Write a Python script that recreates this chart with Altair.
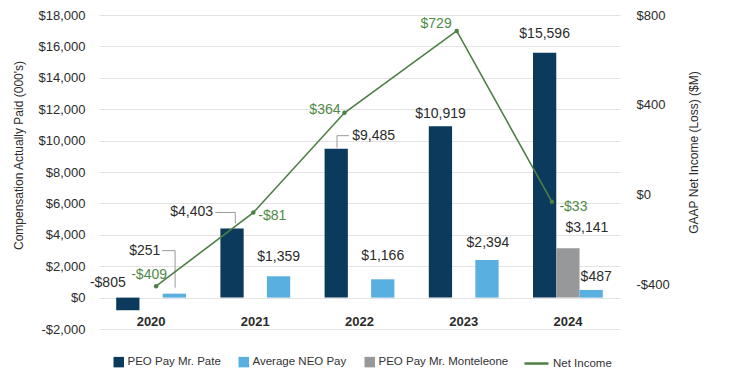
import altair as alt
import pandas as pd

# ---------------- data ----------------
years = ["2020", "2021", "2022", "2023", "2024"]
pate_pay = [-805, 4403, 9485, 10919, 15596]
neo_pay = [251, 1359, 1166, 2394, 487]
monteleone_pay = [None, None, None, None, 3141]
net_income = [-409, -81, 364, 729, -33]

PATE = "PEO Pay Mr. Pate"
NEO = "Average NEO Pay"
MONT = "PEO Pay Mr. Monteleone"
NI = "Net Income"

# ---------------- style ----------------
NAVY = "#0b3a5d"
LIGHT = "#5aafe1"
GRAY = "#97989a"
GREEN = "#4d7f45"
TXT = "#2b2b2b"
FONT = "Liberation Sans"

# label pixel offsets: (dx, dy, align)
bar_label_offsets = {
    ("2020", PATE): (-20, -27, "center"),
    ("2020", NEO): (-14, -43, "right"),
    ("2021", PATE): (-19, -16, "right"),
    ("2021", NEO): (0, -19, "center"),
    ("2022", PATE): (16, -13, "left"),
    ("2022", NEO): (0, -23, "center"),
    ("2023", PATE): (0, -12, "center"),
    ("2023", NEO): (1, -17, "center"),
    ("2024", PATE): (0, -19, "center"),
    ("2024", MONT): (19, -20, "center"),
    ("2024", NEO): (5, -13, "center"),
}
# horizontal pixel shift of the net-income markers relative to the year centre
ni_point_dx = [5, -2, -15, -7, -16]
ni_label_offsets = [(-7, -11, "center"), (5, 3, "left"), (-4, -3, "right"),
                    (-5, -7, "right"), (7.5, 5, "left")]
# leader lines: (vx, vy1, vy2, hx1, hx2) in pixels
leader_offsets = {
    ("2020", NEO): (24, -43, -6, 11, 24),
    ("2021", PATE): (-20, -16, -5, -40, -20),
    ("2022", PATE): (-22.5, -13, -1, -22.5, -10.5),
}


def money(v):
    return ("-" if v < 0 else "") + "$" + f"{abs(v):,}"


rows = []
for i, yr in enumerate(years):
    for s, arr in [(PATE, pate_pay), (MONT, monteleone_pay), (NEO, neo_pay)]:
        v = arr[i]
        if v is None:
            continue
        dx, dy, al = bar_label_offsets[(yr, s)]
        rows.append(dict(year=yr, series=s, value=v, label=money(v), dx=dx, dy=dy, align=al))
bar_df = pd.DataFrame(rows)

lead_rows = []
for (yr, s), (vx, vy1, vy2, hx1, hx2) in leader_offsets.items():
    v = {PATE: pate_pay, NEO: neo_pay}[s][years.index(yr)]
    lead_rows.append(dict(year=yr, value=v, vx=vx, vy1=vy1, vy2=vy2, hx1=hx1, hx2=hx2))
lead_df = pd.DataFrame(lead_rows)

ni_df = pd.DataFrame({
    "year": years,
    "ni": net_income,
    "label": [money(v) for v in net_income],
    "pdx": ni_point_dx,
    "dx": [p + o[0] for p, o in zip(ni_point_dx, ni_label_offsets)],
    "dy": [o[1] for o in ni_label_offsets],
    "align": [o[2] for o in ni_label_offsets],
    "sname": [NI] * len(years),
})

label_expr = "(datum.value < 0 ? '-' : '') + '$' + format(abs(datum.value), ',')"

x_enc = alt.X(
    "year:N",
    scale=alt.Scale(domain=years, paddingInner=0.33, paddingOuter=0.165),
    axis=alt.Axis(title=None, labelFont=FONT, labelFontSize=13, labelFontWeight="bold",
                  labelColor=TXT, labelPadding=-8, labelBaseline="middle", ticks=False,
                  tickSize=0, domain=False, grid=False, labelAngle=0),
)
xo_enc = alt.XOffset("series:N", scale=alt.Scale(domain=[PATE, MONT, NEO], paddingInner=0, paddingOuter=0))

y_left = alt.Y(
    "value:Q",
    scale=alt.Scale(domain=[-2000, 18000], nice=False, zero=False),
    axis=alt.Axis(title="Compensation Actually Paid (000's)", values=list(range(-2000, 18001, 2000)),
                  labelExpr=label_expr, labelFont=FONT, labelFontSize=13, labelColor=TXT,
                  labelPadding=14, ticks=False, tickSize=0, domain=False, grid=True,
                  gridColor="#e3e3e3", gridWidth=1, titleFont=FONT, titleFontSize=12,
                  titleFontWeight="normal", titleColor=TXT, titleX=-81, titleY=140,
                  titleAlign="center", titleBaseline="middle", titleAngle=270),
)
y_right = alt.Y(
    "ni:Q",
    scale=alt.Scale(domain=[-600, 800], nice=False, zero=False),
    axis=alt.Axis(orient="right", title="GAAP Net Income (Loss) ($M)", values=[-400, 0, 400, 800],
                  labelExpr=label_expr, labelFont=FONT, labelFontSize=13, labelColor=TXT,
                  labelPadding=16, ticks=False, tickSize=0, domain=False, grid=False,
                  titleFont=FONT, titleFontSize=12, titleFontWeight="normal", titleColor=TXT,
                  titleX=73, titleY=137, titleAlign="center", titleBaseline="middle", titleAngle=270),
)

bars = alt.Chart(bar_df).mark_bar().encode(
    x=x_enc, xOffset=xo_enc, y=y_left,
    fill=alt.Fill("series:N", scale=alt.Scale(domain=[PATE, NEO, MONT], range=[NAVY, LIGHT, GRAY]),
                  legend=alt.Legend(orient="none", legendX=14, legendY=341, direction="horizontal",
                                    columns=3, title=None, symbolType="square", symbolSize=110,
                                    symbolStrokeWidth=0, labelFont=FONT, labelFontSize=11.5,
                                    labelColor="#333", labelOffset=3, columnPadding=17, padding=0)),
)

bar_text = alt.Chart(bar_df).mark_text(
    font=FONT, fontSize=14, color=TXT, baseline="middle",
    dx={"expr": "datum.dx"}, dy={"expr": "datum.dy"}, align={"expr": "datum.align"},
).encode(x=x_enc, xOffset=xo_enc, y=y_left, text="label:N")

leader_v = alt.Chart(lead_df).mark_rule(
    color="#9a9a9a", strokeWidth=1,
    xOffset={"expr": "datum.vx"}, yOffset={"expr": "datum.vy1"}, y2Offset={"expr": "datum.vy2"},
).encode(x=x_enc, y=y_left, y2=alt.Y2("value"))

leader_h = alt.Chart(lead_df).mark_rule(
    color="#9a9a9a", strokeWidth=1,
    xOffset={"expr": "datum.hx1"}, x2Offset={"expr": "datum.hx2"}, yOffset={"expr": "datum.vy1"},
).encode(x=x_enc, x2=alt.X2("year"), y=y_left)

line = alt.Chart(ni_df).mark_line(strokeWidth=1.6, xOffset={"expr": "datum.pdx"}).encode(
    x=x_enc, y=y_right,
    stroke=alt.Stroke("sname:N", scale=alt.Scale(domain=[NI], range=[GREEN]),
                      legend=alt.Legend(orient="none", legendX=424, legendY=335, direction="horizontal",
                                        title=None, symbolType="stroke", symbolSize=576,
                                        symbolStrokeWidth=2.5, labelFont=FONT, labelFontSize=11.5,
                                        labelColor="#333", labelOffset=3, padding=0)),
)
pts = alt.Chart(ni_df).mark_point(filled=True, size=20, color=GREEN, opacity=1,
                                  xOffset={"expr": "datum.pdx"}).encode(x=x_enc, y=y_right)
ni_text = alt.Chart(ni_df).mark_text(
    font=FONT, fontSize=14, color="#4f8a47", baseline="middle",
    dx={"expr": "datum.dx"}, dy={"expr": "datum.dy"}, align={"expr": "datum.align"},
).encode(x=x_enc, y=y_right, text="label:N")

left = alt.layer(bars, leader_v, leader_h, bar_text)
right = alt.layer(line, pts, ni_text)

chart = (
    alt.layer(left, right)
    .resolve_scale(y="independent")
    .properties(width=521, height=314,
                padding={"left": 91, "top": 7, "right": 100, "bottom": 41},
                autosize=alt.AutoSizeParams(type="none"))
    .configure_view(strokeWidth=0)
)

chart.save("out.html", embed_options={"renderer": "svg", "actions": False})
